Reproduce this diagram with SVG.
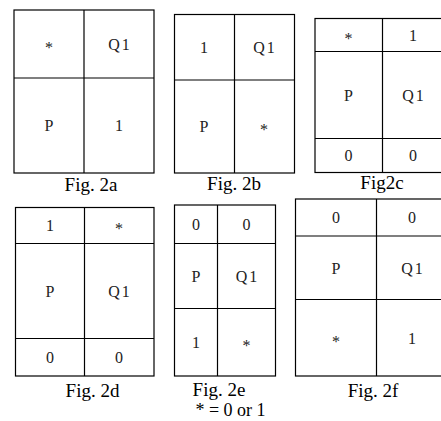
<svg xmlns="http://www.w3.org/2000/svg" width="441" height="421" viewBox="0 0 441 421">
  <style>
    .box { fill: #fff; stroke: #000; stroke-width: 1.2; }
    .div { stroke: #000; stroke-width: 1.2; fill: none; }
    .cell { font-family: "Liberation Serif", "Times New Roman", serif; font-size: 16px; letter-spacing: 2px; fill: #222; text-anchor: middle; }
    .star { font-family: "Liberation Serif", "Times New Roman", serif; font-size: 16px; fill: #222; text-anchor: middle; }
    .cap { font-family: "Liberation Serif", "Times New Roman", serif; font-size: 19px; fill: #000; text-anchor: middle; }
    .note { font-family: "Liberation Serif", "Times New Roman", serif; font-size: 18px; fill: #000; text-anchor: middle; }
  </style>
  <rect width="441" height="421" fill="#fff"/>

  <!-- Fig. 2a -->
  <g id="fig2a">
    <rect class="box" x="14" y="10" width="140" height="163"/>
    <line class="div" x1="84" y1="10" x2="84" y2="173"/>
    <line class="div" x1="14" y1="78" x2="154" y2="78"/>
    <text class="star" x="49" y="52.5">*</text>
    <text class="cell" x="120" y="49.5">Q1</text>
    <text class="cell" x="50" y="131">P</text>
    <text class="cell" x="120" y="131">1</text>
    <text class="cap" x="91" y="191">Fig. 2a</text>
  </g>

  <!-- Fig. 2b -->
  <g id="fig2b">
    <rect class="box" x="174.5" y="14.5" width="120" height="158.5"/>
    <line class="div" x1="234.5" y1="14.5" x2="234.5" y2="173"/>
    <line class="div" x1="174.5" y1="80" x2="294.5" y2="80"/>
    <text class="cell" x="205" y="52.5">1</text>
    <text class="cell" x="265" y="52.5">Q1</text>
    <text class="cell" x="205" y="132">P</text>
    <text class="star" x="264" y="135">*</text>
    <text class="cap" x="234" y="190">Fig. 2b</text>
  </g>

  <!-- Fig2c -->
  <g id="fig2c">
    <rect class="box" x="315" y="18.5" width="130" height="154"/>
    <line class="div" x1="382.5" y1="18.5" x2="382.5" y2="172.5"/>
    <line class="div" x1="315" y1="51.5" x2="445" y2="51.5"/>
    <line class="div" x1="315" y1="138.5" x2="445" y2="138.5"/>
    <text class="star" x="348.5" y="43.5">*</text>
    <text class="cell" x="414" y="40.5">1</text>
    <text class="cell" x="349.5" y="100.5">P</text>
    <text class="cell" x="414" y="100.5">Q1</text>
    <text class="cell" x="349.5" y="161">0</text>
    <text class="cell" x="414" y="161">0</text>
    <text class="cap" x="382" y="189">Fig2c</text>
  </g>

  <!-- Fig. 2d -->
  <g id="fig2d">
    <rect class="box" x="15.5" y="207.5" width="138.5" height="168.5"/>
    <line class="div" x1="84.5" y1="207.5" x2="84.5" y2="376"/>
    <line class="div" x1="15.5" y1="243.5" x2="154" y2="243.5"/>
    <line class="div" x1="15.5" y1="338.5" x2="154" y2="338.5"/>
    <text class="cell" x="51" y="231">1</text>
    <text class="star" x="119" y="234">*</text>
    <text class="cell" x="51" y="296.5">P</text>
    <text class="cell" x="120" y="296.5">Q1</text>
    <text class="cell" x="51" y="362.5">0</text>
    <text class="cell" x="120" y="362.5">0</text>
    <text class="cap" x="92.5" y="397">Fig. 2d</text>
  </g>

  <!-- Fig. 2e -->
  <g id="fig2e">
    <rect class="box" x="174.5" y="205" width="101" height="171"/>
    <line class="div" x1="217.5" y1="205" x2="217.5" y2="376"/>
    <line class="div" x1="174.5" y1="243.5" x2="275.5" y2="243.5"/>
    <line class="div" x1="174.5" y1="308.5" x2="275.5" y2="308.5"/>
    <text class="cell" x="197" y="229.5">0</text>
    <text class="cell" x="247.5" y="229.5">0</text>
    <text class="cell" x="197" y="281.5">P</text>
    <text class="cell" x="247.5" y="281.5">Q1</text>
    <text class="cell" x="197" y="347.5">1</text>
    <text class="star" x="246.5" y="350.5">*</text>
    <text class="cap" x="219" y="395.5">Fig. 2e</text>
    <text class="note" x="230.5" y="416">* = 0 or 1</text>
  </g>

  <!-- Fig. 2f -->
  <g id="fig2f">
    <rect class="box" x="295.5" y="199" width="150" height="177"/>
    <line class="div" x1="376.5" y1="199" x2="376.5" y2="376"/>
    <line class="div" x1="295.5" y1="236" x2="445.5" y2="236"/>
    <line class="div" x1="295.5" y1="299.5" x2="445.5" y2="299.5"/>
    <text class="cell" x="337" y="223">0</text>
    <text class="cell" x="413" y="223">0</text>
    <text class="cell" x="337" y="273.5">P</text>
    <text class="cell" x="413" y="273.5">Q1</text>
    <text class="star" x="336" y="346.5">*</text>
    <text class="cell" x="413" y="343.5">1</text>
    <text class="cap" x="373" y="397">Fig. 2f</text>
  </g>
</svg>
